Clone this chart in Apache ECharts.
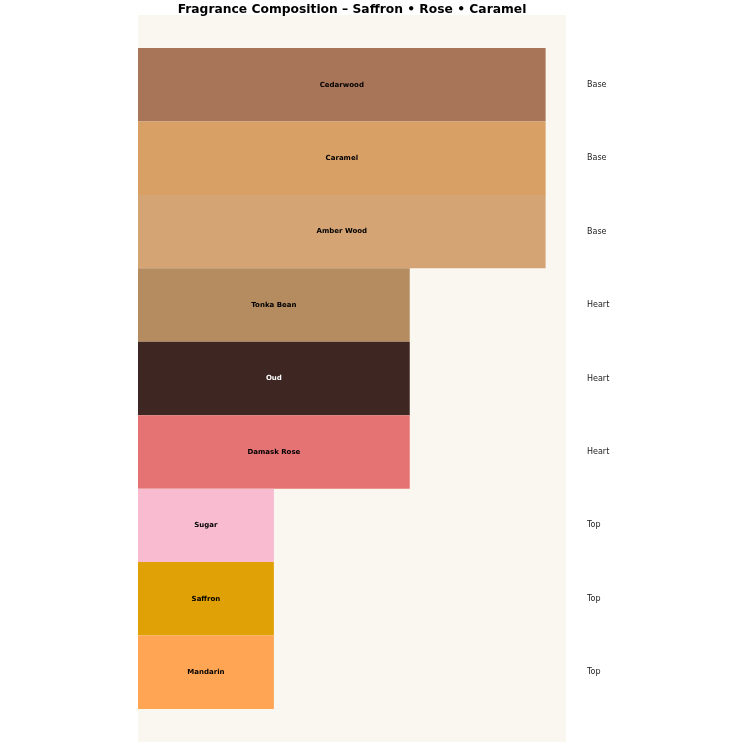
<!DOCTYPE html>
<html>
<head>
<meta charset="utf-8">
<script src="https://cdn.jsdelivr.net/npm/echarts@6/dist/echarts.min.js"></script>
<style>html,body{margin:0;padding:0;background:#fff}#c{width:746px;height:746px}</style>
</head>
<body>
<div id="c"></div>
<script>
const notes = ['Cedarwood','Caramel','Amber Wood','Tonka Bean','Oud','Damask Rose','Sugar','Saffron','Mandarin'];
const tiers = ['Base','Base','Base','Heart','Heart','Heart','Top','Top','Top'];
const values = [3,3,3,2,2,2,1,1,1];
const colors = ['#A97559','#D9A066','#D4A475','#B58B60','#3E2723','#E57373','#F8BBD0','#E0A106','#FFA553'];
const labelColors = ['#000','#000','#000','#000','#fff','#000','#000','#000','#000'];

const chart = echarts.init(document.getElementById('c'), null, {renderer:'canvas'});
chart.setOption({
  backgroundColor:'#ffffff',
  animation:false,
  title:{text:'Fragrance Composition – Saffron • Rose • Caramel', left:347, textAlign:'center', top:-1,
    textStyle:{fontFamily:'DejaVu Sans', fontWeight:'bold', fontSize:12.3, color:'#000'}},
  graphic:[{type:'rect', z:-10, silent:true, shape:{x:138,y:15,width:428,height:727}, style:{fill:'#FAF6F0'}}],
  grid:{left:138, top:48, width:428, height:661, containLabel:false},
  xAxis:{type:'value', min:0, max:3.15, show:false},
  yAxis:[
    {type:'category', data:notes, inverse:true, show:false},
    {type:'category', data:notes, inverse:true, position:'right',
     axisLine:{show:false}, axisTick:{show:false}, splitLine:{show:false},
     axisLabel:{margin:21, align:'left', fontFamily:'DejaVu Sans', fontSize:8, color:'#222',
       formatter:(v, i)=>tiers[i]}}
  ],
  series:[{
    type:'bar', yAxisIndex:0, barCategoryGap:0, barWidth:'100%',
    data: values.map((v,i)=>({value:v, itemStyle:{color:colors[i]}, label:{color:labelColors[i]}})),
    label:{show:true, position:'inside', formatter:(p)=>notes[p.dataIndex],
      fontFamily:'DejaVu Sans', fontWeight:'bold', fontSize:7}
  }]
});
</script>
</body>
</html>
